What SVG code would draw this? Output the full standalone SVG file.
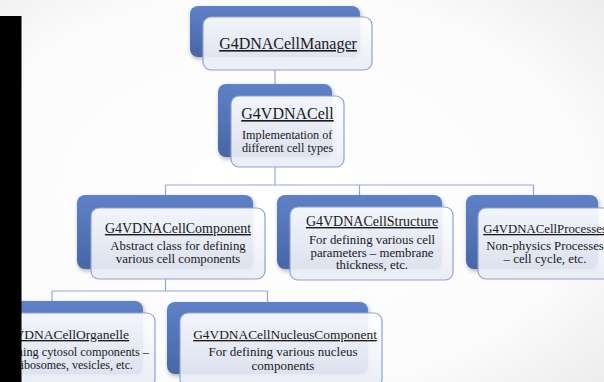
<svg xmlns="http://www.w3.org/2000/svg" width="604" height="382" viewBox="0 0 604 382">
<defs>
<radialGradient id="bg" cx="0.45" cy="0.5" r="0.75">
<stop offset="0" stop-color="#ffffff"/>
<stop offset="0.7" stop-color="#fbfbfb"/>
<stop offset="1" stop-color="#ececec"/>
</radialGradient>
<linearGradient id="blue" x1="0" y1="0" x2="0" y2="1">
<stop offset="0" stop-color="#5e81c7"/>
<stop offset="1" stop-color="#4866a6"/>
</linearGradient>
<linearGradient id="pale" x1="0" y1="0" x2="0" y2="1">
<stop offset="0" stop-color="#ffffff" stop-opacity="0.92"/>
<stop offset="1" stop-color="#e9ecf5" stop-opacity="0.9"/>
</linearGradient>
<filter id="sh" x="-10%" y="-10%" width="125%" height="130%">
<feDropShadow dx="1" dy="2" stdDeviation="2" flood-color="#000" flood-opacity="0.3"/>
</filter>
</defs>
<style>
.back{fill:url(#blue);filter:url(#sh)}
.front{fill:url(#pale);stroke:#8ea3d3;stroke-width:1.2}
.conn{fill:none;stroke:#93a6d2;stroke-width:1.2}
text{font-family:"Liberation Serif","Times New Roman",serif;fill:#1a1a1a}
.t{text-decoration:underline}
.c{text-anchor:middle}
.e{text-anchor:end}
</style>
<rect x="0" y="0" width="604" height="382" fill="url(#bg)"/>
<g id="connectors">
<path class="conn" d="M275,70V84M275,167V185M165.5,185H533.5M165.5,185V195M359.5,185V195M533.5,185V195M165.5,279V291M52,291H267.5M52,291V301M267.5,291V302"/>
</g>
<g id="manager">
<rect class="back" x="190" y="6" width="170" height="51" rx="8"/>
<rect class="front" x="203" y="17" width="169" height="53" rx="8"/>
<text class="t c" x="288" y="49" font-size="16">G4DNACellManager</text>
</g>
<g id="cell">
<rect class="back" x="218" y="84" width="114" height="73" rx="8"/>
<rect class="front" x="231" y="96" width="113" height="71" rx="8"/>
<text class="t c" x="287.5" y="119" font-size="16">G4VDNACell</text>
<text x="242" y="139" font-size="12.2">Implementation of</text>
<text x="242" y="152" font-size="12.2">different cell types</text>
</g>
<g id="component">
<rect class="back" x="77" y="195" width="176" height="74" rx="8"/>
<rect class="front" x="91" y="208" width="174" height="71" rx="8"/>
<text class="t c" x="178" y="233" font-size="14">G4VDNACellComponent</text>
<text class="c" x="178" y="250" font-size="12.8">Abstract class for defining</text>
<text class="c" x="178" y="263" font-size="12.8">various cell components</text>
</g>
<g id="structure">
<rect class="back" x="277" y="195" width="165" height="74" rx="8"/>
<rect class="front" x="290" y="207" width="163" height="73" rx="8"/>
<text class="t c" x="372" y="226" font-size="14">G4VDNACellStructure</text>
<text class="c" x="372" y="244" font-size="12.8">For defining various cell</text>
<text class="c" x="372" y="256.5" font-size="12.8">parameters – membrane</text>
<text class="c" x="372" y="269" font-size="12.8">thickness, etc.</text>
</g>
<g id="processes">
<rect class="back" x="466" y="195" width="132" height="74" rx="8"/>
<rect class="front" x="478" y="208" width="163" height="71" rx="8"/>
<text class="t c" x="545" y="233" font-size="12.8">G4VDNACellProcesses</text>
<text class="c" x="545" y="250" font-size="12.8">Non-physics Processes</text>
<text class="c" x="545" y="263" font-size="12.8">– cell cycle, etc.</text>
</g>
<g id="organelle">
<rect class="back" x="-40" y="301" width="183" height="73" rx="8"/>
<rect class="front" x="-27" y="313" width="182" height="74" rx="8"/>
<text class="t e" x="129" y="339" font-size="13.5">VDNACellOrganelle</text>
<text class="e" x="149" y="356" font-size="12.3">ning cytosol components –</text>
<text class="e" x="133" y="369" font-size="12">ibosomes, vesicles, etc.</text>
</g>
<g id="nucleus">
<rect class="back" x="167" y="302" width="201" height="72" rx="8"/>
<rect class="front" x="180" y="313" width="202" height="74" rx="8"/>
<text class="t c" x="285" y="339" font-size="13.4">G4VDNACellNucleusComponent</text>
<text class="c" x="283" y="356" font-size="13">For defining various nucleus</text>
<text class="c" x="283" y="369.5" font-size="13">components</text>
</g>
<rect x="0" y="16" width="21.5" height="366" fill="#000"/>
</svg>
